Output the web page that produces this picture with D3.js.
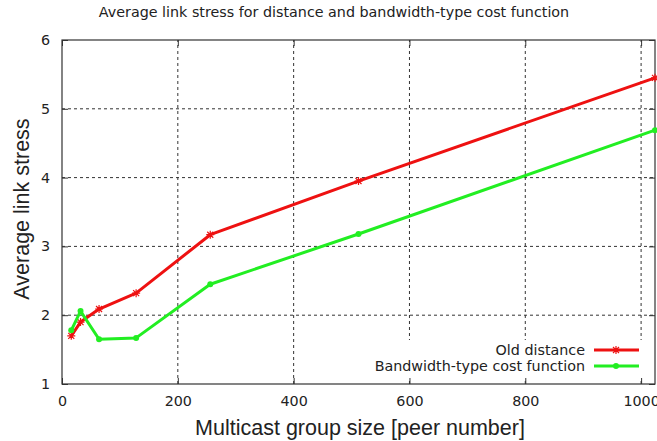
<!DOCTYPE html>
<html>
<head>
<meta charset="utf-8">
<script src="https://cdn.jsdelivr.net/npm/d3@7"></script>
<style>
  body { margin: 0; background: #fff; }
  svg { display: block; }
</style>
</head>
<body>
<svg id="chart" width="657" height="441"></svg>
<script>
// data
const groupSizes = [16, 32, 64, 128, 256, 512, 1024];
const oldDistance = [1.70, 1.90, 2.09, 2.32, 3.17, 3.95, 5.45];
const bandwidthCost = [1.78, 2.06, 1.65, 1.67, 2.45, 3.18, 4.69];
const xTicks = [0, 200, 400, 600, 800, 1000];
const yTicks = [1, 2, 3, 4, 5, 6];
const seriesNames = ["Old distance", "Bandwidth-type cost function"];

let svg = d3.select("#chart");
let width = +svg.attr("width");
let height = +svg.attr("height");
let padding = { top: 40, right: 2, bottom: 57, left: 62 };

let xScale = d3.scaleLinear()
                .domain([0, 1024])
                .range([padding.left, width - padding.right]);
let yScale = d3.scaleLinear()
                .domain([1, 6])
                .range([height - padding.bottom, padding.top]);

let x0 = padding.left, x1 = width - padding.right;
let y0 = height - padding.bottom, y1 = padding.top;
let smallFont = "14.3px";

// grid lines (dashed)
let grid = svg.append("g");
grid.selectAll(".vgrid")
    .data(xTicks.filter(d => d > 0))
    .enter().append("line")
        .attr("x1", d => xScale(d)).attr("x2", d => xScale(d))
        .attr("y1", y0).attr("y2", y1)
        .attr("stroke", "#333").attr("stroke-width", 1)
        .attr("stroke-dasharray", "3,3");
grid.selectAll(".hgrid")
    .data(yTicks.filter(d => d > 1 && d < 6))
    .enter().append("line")
        .attr("x1", x0).attr("x2", x1)
        .attr("y1", d => yScale(d)).attr("y2", d => yScale(d))
        .attr("stroke", "#333").attr("stroke-width", 1)
        .attr("stroke-dasharray", "3,3");

// legend background hides the grid behind it
svg.append("rect")
    .attr("x", 368).attr("y", 340)
    .attr("width", x1 - 369).attr("height", 38)
    .attr("fill", "#fff");

// axes with inward ticks, mirrored
let tick = 6;
let xAxis = d3.axisBottom(xScale).tickValues(xTicks).tickSize(-tick).tickPadding(12).tickFormat(d3.format("d"));
let xAxisTop = d3.axisTop(xScale).tickValues(xTicks).tickSize(-tick).tickFormat("");
let yAxis = d3.axisLeft(yScale).tickValues(yTicks).tickSize(-tick).tickPadding(12).tickFormat(d3.format("d"));
let yAxisRight = d3.axisRight(yScale).tickValues(yTicks).tickSize(-tick).tickFormat("");

function styleAxis(g) {
    g.select(".domain").remove();
    g.selectAll("line").attr("stroke", "#333");
    g.selectAll("text")
        .attr("fill", "#222")
        .style("font-family", "DejaVu Sans, sans-serif")
        .style("font-size", smallFont);
}

svg.append("g").attr("transform", `translate(0,${y0})`).call(xAxis).call(styleAxis);
svg.append("g").attr("transform", `translate(0,${y1})`).call(xAxisTop).call(styleAxis);
svg.append("g").attr("transform", `translate(${x0},0)`).call(yAxis).call(styleAxis);
svg.append("g").attr("transform", `translate(${x1},0)`).call(yAxisRight).call(styleAxis);

// plot border
svg.append("rect")
    .attr("x", x0).attr("y", y1)
    .attr("width", x1 - x0).attr("height", y0 - y1)
    .attr("fill", "none").attr("stroke", "#333").attr("stroke-width", 1.2);

// series
let series = [
    { name: seriesNames[0], values: oldDistance, color: "#ee1111", marker: "star" },
    { name: seriesNames[1], values: bandwidthCost, color: "#22ee22", marker: "circle" }
];

let line = d3.line()
    .x(d => xScale(d[0]))
    .y(d => yScale(d[1]));

let plot = svg.append("g");

function drawMarker(g, type, color) {
    if (type === "star") {
        g.append("path")
            .attr("d", "M-4,0H4M0,-4V4M-3,-3L3,3M-3,3L3,-3")
            .attr("stroke", color).attr("stroke-width", 1.2);
    } else {
        g.append("circle").attr("r", 3).attr("fill", color);
    }
}

series.forEach(s => {
    let pts = groupSizes.map((g, i) => [g, s.values[i]]);
    plot.append("path")
        .datum(pts)
        .attr("d", line)
        .attr("fill", "none")
        .attr("stroke", s.color)
        .attr("stroke-width", 3)
        .attr("stroke-linejoin", "round");
    pts.forEach(p => {
        let m = plot.append("g")
            .attr("transform", `translate(${xScale(p[0])},${yScale(p[1])})`);
        drawMarker(m, s.marker, s.color);
    });
});

// legend
let legend = svg.append("g");
series.forEach((s, i) => {
    let ly = 350 + i * 16;
    legend.append("text")
        .attr("x", 585).attr("y", ly + 5)
        .attr("text-anchor", "end")
        .style("font-family", "DejaVu Sans, sans-serif")
        .style("font-size", smallFont)
        .attr("fill", "#222")
        .text(s.name);
    legend.append("line")
        .attr("x1", 594).attr("x2", 639)
        .attr("y1", ly).attr("y2", ly)
        .attr("stroke", s.color).attr("stroke-width", 3);
    let m = legend.append("g").attr("transform", `translate(616,${ly})`);
    drawMarker(m, s.marker, s.color);
});

// title
svg.append("text")
    .attr("x", 334).attr("y", 17)
    .attr("text-anchor", "middle")
    .style("font-family", "DejaVu Sans, sans-serif")
    .style("font-size", "14.3px")
    .attr("fill", "#222")
    .text("Average link stress for distance and bandwidth-type cost function");

// axis titles
svg.append("text")
    .attr("x", 360).attr("y", 435)
    .attr("text-anchor", "middle")
    .style("font-family", "Liberation Sans, Arial, sans-serif")
    .style("font-size", "21.5px")
    .attr("fill", "#222")
    .text("Multicast group size [peer number]");

svg.append("text")
    .attr("transform", "rotate(-90)")
    .attr("x", -209).attr("y", 29)
    .attr("text-anchor", "middle")
    .style("font-family", "Liberation Sans, Arial, sans-serif")
    .style("font-size", "21.5px")
    .attr("fill", "#222")
    .text("Average link stress");
</script>
</body>
</html>
